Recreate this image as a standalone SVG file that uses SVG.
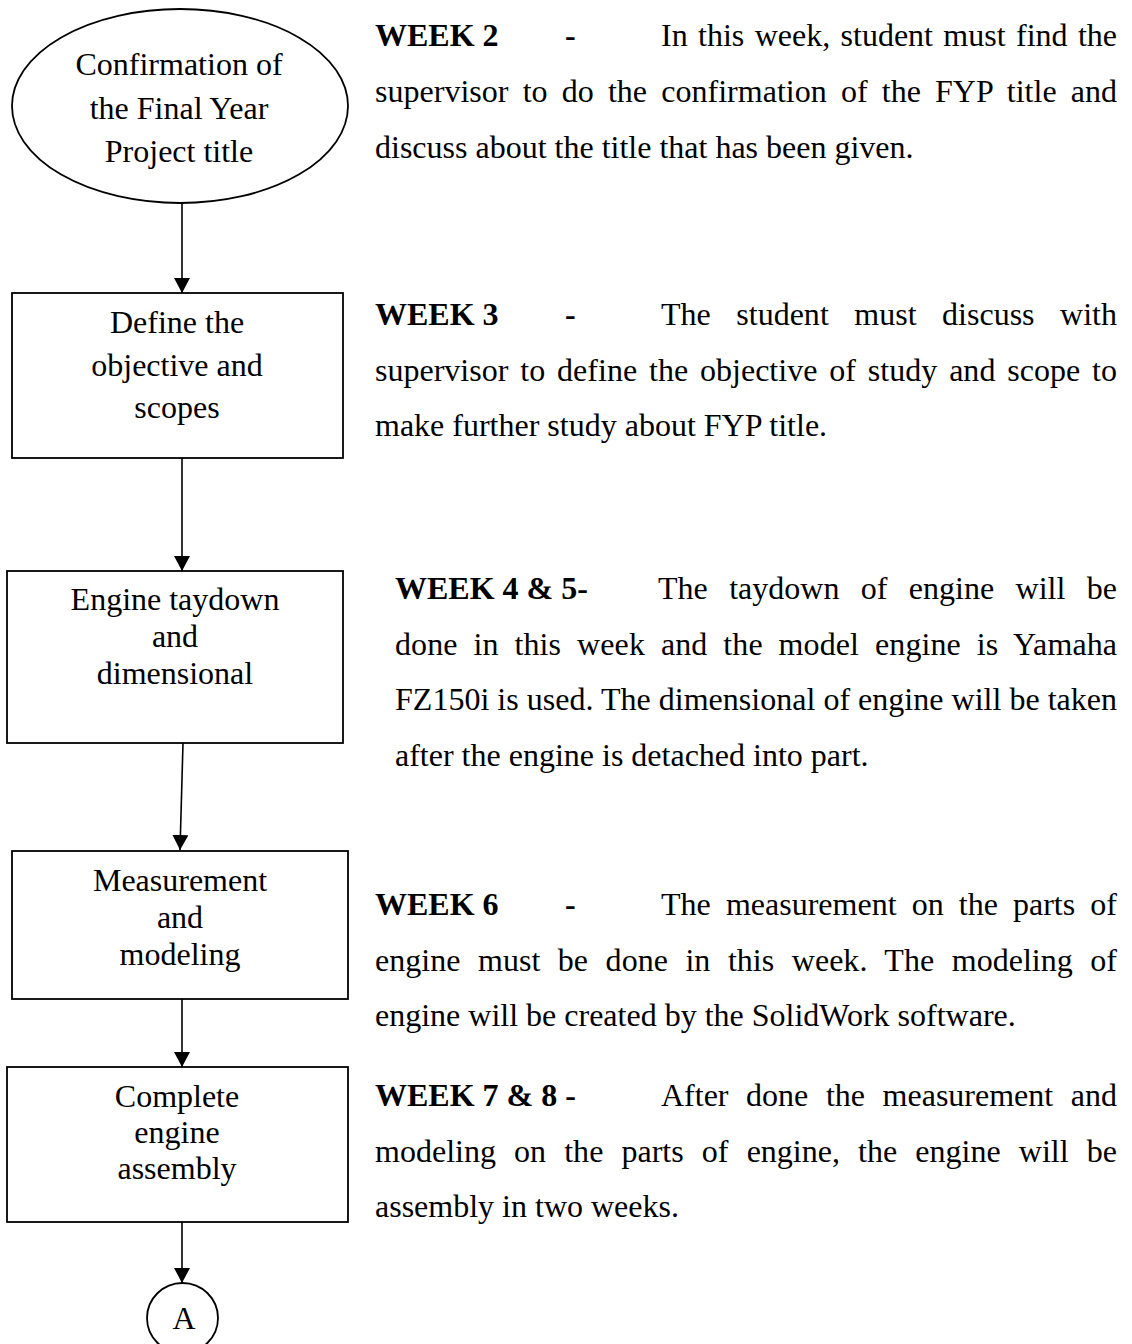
<svg xmlns="http://www.w3.org/2000/svg" width="1132" height="1344" viewBox="0 0 1132 1344">
<style>
.shape{fill:#fff;stroke:#000;stroke-width:1.8}
.lbl{font-family:"Liberation Serif","Times New Roman",serif;font-size:32px;fill:#000;text-anchor:middle}
.txt{font-family:"Liberation Serif","Times New Roman",serif;font-size:32px;fill:#000}
.b{font-weight:bold}
.conn{stroke:#000;stroke-width:1.6;fill:none;marker-end:url(#ah)}
</style>
<defs>
<marker id="ah" markerUnits="userSpaceOnUse" viewBox="0 0 15 16" refX="15" refY="8" markerWidth="15" markerHeight="16" orient="auto">
<path d="M0,0 L15,8 L0,16 z" fill="#000"/>
</marker>
</defs>
<rect width="1132" height="1344" fill="#fff"/>

<g id="connectors">
<line class="conn" x1="182" y1="203" x2="182" y2="293"/>
<line class="conn" x1="182" y1="458" x2="182" y2="571"/>
<line class="conn" x1="183" y1="743" x2="180" y2="850"/>
<line class="conn" x1="182" y1="999" x2="182" y2="1067"/>
<line class="conn" x1="182" y1="1222" x2="182" y2="1283"/>
</g>

<g id="n-start">
<ellipse class="shape" cx="180" cy="106" rx="168" ry="97"/>
<text class="lbl" x="179" y="75">Confirmation of</text>
<text class="lbl" x="179" y="118.5">the Final Year</text>
<text class="lbl" x="179" y="162">Project title</text>
</g>

<g id="n-objective">
<rect class="shape" x="12" y="293" width="331" height="165"/>
<text class="lbl" x="177" y="333">Define the</text>
<text class="lbl" x="177" y="375.5">objective and</text>
<text class="lbl" x="177" y="418">scopes</text>
</g>

<g id="n-taydown">
<rect class="shape" x="7" y="571" width="336" height="172"/>
<text class="lbl" x="175" y="610">Engine taydown</text>
<text class="lbl" x="175" y="647">and</text>
<text class="lbl" x="175" y="684">dimensional</text>
</g>

<g id="n-measure">
<rect class="shape" x="12" y="851" width="336" height="148"/>
<text class="lbl" x="180" y="891">Measurement</text>
<text class="lbl" x="180" y="928">and</text>
<text class="lbl" x="180" y="965">modeling</text>
</g>

<g id="n-assembly">
<rect class="shape" x="7" y="1067" width="341" height="155"/>
<text class="lbl" x="177" y="1107">Complete</text>
<text class="lbl" x="177" y="1143">engine</text>
<text class="lbl" x="177" y="1179">assembly</text>
</g>

<g id="n-A">
<ellipse class="shape" cx="182.5" cy="1318" rx="35.5" ry="35"/>
<text class="lbl" x="184" y="1329">A</text>
</g>

<g id="desc-week2">
<text class="txt b" x="375" y="46">WEEK 2</text>
<text class="txt b" x="565" y="46">-</text>
<text class="txt" x="661" y="46" word-spacing="2.4" textLength="456" lengthAdjust="spacing">In this week, student must find the</text>
<text class="txt" x="375" y="102" word-spacing="6.1" textLength="742" lengthAdjust="spacing">supervisor to do the confirmation of the FYP title and</text>
<text class="txt" x="375" y="158">discuss about the title that has been given.</text>
</g>

<g id="desc-week3">
<text class="txt b" x="375" y="325">WEEK 3</text>
<text class="txt b" x="565" y="325">-</text>
<text class="txt" x="661" y="325" word-spacing="17.5" textLength="456" lengthAdjust="spacing">The student must discuss with</text>
<text class="txt" x="375" y="380.5" word-spacing="3.9" textLength="742" lengthAdjust="spacing">supervisor to define the objective of study and scope to</text>
<text class="txt" x="375" y="436">make further study about FYP title.</text>
</g>

<g id="desc-week45">
<text class="txt b" x="395" y="599">WEEK 4 &amp; 5-</text>
<text class="txt" x="658" y="599" word-spacing="13.4" textLength="459" lengthAdjust="spacing">The taydown of engine will be</text>
<text class="txt" x="395" y="654.5" word-spacing="7.8" textLength="722" lengthAdjust="spacing">done in this week and the model engine is Yamaha</text>
<text class="txt" x="395" y="710" textLength="722" lengthAdjust="spacing">FZ150i is used. The dimensional of engine will be taken</text>
<text class="txt" x="395" y="765.5">after the engine is detached into part.</text>
</g>

<g id="desc-week6">
<text class="txt b" x="375" y="915">WEEK 6</text>
<text class="txt b" x="565" y="915">-</text>
<text class="txt" x="661" y="915" word-spacing="7.1" textLength="456" lengthAdjust="spacing">The measurement on the parts of</text>
<text class="txt" x="375" y="970.5" word-spacing="9.5" textLength="742" lengthAdjust="spacing">engine must be done in this week. The modeling of</text>
<text class="txt" x="375" y="1026">engine will be created by the SolidWork software.</text>
</g>

<g id="desc-week78">
<text class="txt b" x="375" y="1106">WEEK 7 &amp; 8 -</text>
<text class="txt" x="661" y="1106" word-spacing="9.6" textLength="456" lengthAdjust="spacing">After done the measurement and</text>
<text class="txt" x="375" y="1161.5" word-spacing="10.1" textLength="742" lengthAdjust="spacing">modeling on the parts of engine, the engine will be</text>
<text class="txt" x="375" y="1217">assembly in two weeks.</text>
</g>
</svg>
